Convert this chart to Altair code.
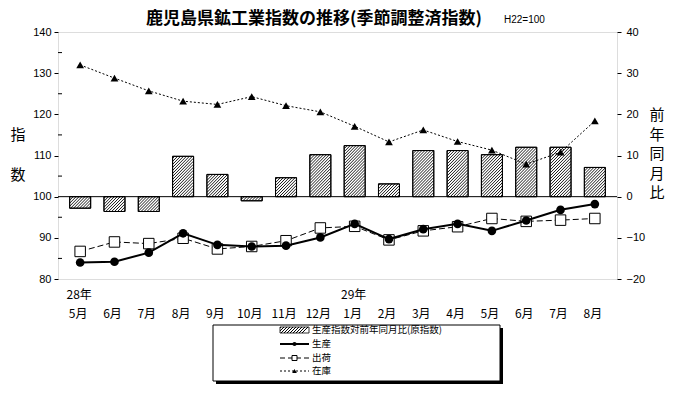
import math
import altair as alt
import pandas as pd

# ---------------- data ----------------
months = ["5月", "6月", "7月", "8月", "9月", "10月", "11月", "12月",
          "1月", "2月", "3月", "4月", "5月", "6月", "7月", "8月"]
years = ["28年", "", "", "", "", "", "", "", "29年", "", "", "", "", "", "", ""]
yoy = [-2.8, -3.6, -3.6, 9.8, 5.4, -1.0, 4.6, 10.2, 12.4, 3.1, 11.2, 11.2, 10.2, 12.0, 12.0, 7.1]
production = [84.0, 84.2, 86.4, 91.1, 88.3, 87.9, 88.1, 90.1, 93.4, 89.7, 92.1, 93.4, 91.7, 94.2, 96.8, 98.2]
shipments = [86.7, 89.0, 88.6, 89.9, 87.3, 87.9, 89.3, 92.4, 92.8, 89.5, 91.7, 92.7, 94.7, 94.0, 94.3, 94.7]
inventory = [32.0, 28.8, 25.7, 23.2, 22.4, 24.3, 22.1, 20.6, 17.1, 13.3, 16.2, 13.4, 11.3, 7.9, 10.8, 18.4]

left_ticks = [80, 90, 100, 110, 120, 130, 140]
left_minor = [85, 95, 105, 115, 125, 135]
right_ticks = [-20, -10, 0, 10, 20, 30, 40]

title_text = "鹿児島県鉱工業指数の推移(季節調整済指数)"
base_text = "H22=100"
legend_labels = ["生産指数対前年同月比(原指数)", "生産", "出荷", "在庫"]

# ---------------- layout ----------------
W, H = 559, 247
BAR_W = 21
JP = "Noto Sans CJK JP"
NUM = "Liberation Sans"

n = len(months)
df = pd.DataFrame({
    "i": list(range(n)),
    "month": months,
    "year": years,
    "yoy": yoy,
    "production": production,
    "shipments": shipments,
    "inventory": inventory,
})

x_scale = alt.Scale(domain=[-0.5, n - 0.5], nice=False, zero=False)
left_scale = alt.Scale(domain=[80, 140], nice=False, zero=False)
right_scale = alt.Scale(domain=[-20, 40], nice=False, zero=False)

Xn = alt.X("i:Q", scale=x_scale, axis=None)

left_axis = alt.Axis(orient="left", values=left_ticks, tickSize=4, labelPadding=3,
                     labelFont=NUM, labelFontSize=11, title=None, grid=False,
                     domain=False, labelColor="black", tickColor="black")
right_axis = alt.Axis(orient="right", values=right_ticks, tickSize=4, labelPadding=5,
                      labelFont=NUM, labelFontSize=11, title=None, grid=False,
                      domain=False, labelColor="black", tickColor="black")

# ---------------- hatch lines (derived from bar values) ----------------
sx = W / n
sy = H / 60.0
step = 3.0
segs = []
for i, v in enumerate(yoy):
    xc = (i + 0.5) * sx
    x0, x1 = xc - BAR_W / 2, xc + BAR_W / 2
    y0, y1 = (min(0, v) + 20) * sy, (max(0, v) + 20) * sy
    kmin = math.ceil((x0 - y1) / step)
    kmax = math.floor((x1 - y0) / step)
    for k in range(kmin, kmax + 1):
        c = k * step
        lo = max(y0, x0 - c)
        hi = min(y1, x1 - c)
        if hi - lo > 0.3:
            segs.append({
                "hx": (lo + c) / sx - 0.5, "hy": lo / sy - 20,
                "hx2": (hi + c) / sx - 0.5, "hy2": hi / sy - 20,
            })
hatch_df = pd.DataFrame(segs)

base = alt.Chart(df)
one = alt.Chart(pd.DataFrame({"a": [0]}))

bars_bg = base.mark_bar(size=BAR_W, fill="white", stroke="black", strokeWidth=1).encode(
    x=Xn, y=alt.Y("yoy:Q", scale=right_scale, axis=right_axis), y2=alt.datum(0))
hatch = alt.Chart(hatch_df).mark_rule(stroke="black", strokeWidth=0.9).encode(
    x=alt.X("hx:Q", scale=x_scale, axis=None), x2="hx2:Q",
    y=alt.Y("hy:Q", scale=right_scale, axis=None), y2="hy2:Q")
bars_outline = base.mark_bar(size=BAR_W, fillOpacity=0, stroke="black", strokeWidth=1).encode(
    x=Xn, y=alt.Y("yoy:Q", scale=right_scale, axis=None), y2=alt.datum(0))

zero_line = alt.Chart(pd.DataFrame({"z": [0]})).mark_rule(stroke="black", strokeWidth=1).encode(
    y=alt.Y("z:Q", scale=right_scale, axis=None))

minor = alt.Chart(pd.DataFrame({"m": left_minor})).mark_rule(stroke="black", strokeWidth=1).encode(
    y=alt.Y("m:Q", scale=left_scale, axis=None), x=alt.value(0), x2=alt.value(4))

inv_line = base.mark_line(stroke="black", strokeWidth=1, strokeDash=[2, 2]).encode(
    x=Xn, y=alt.Y("inventory:Q", scale=right_scale, axis=None))
inv_pts = base.mark_point(shape="triangle-up", filled=True, fill="black", size=60, opacity=1).encode(
    x=Xn, y=alt.Y("inventory:Q", scale=right_scale, axis=None))

ship_line = base.mark_line(stroke="black", strokeWidth=1, strokeDash=[6, 3]).encode(
    x=Xn, y=alt.Y("shipments:Q", scale=left_scale, axis=left_axis))
ship_pts = base.mark_point(shape="square", filled=True, fill="white", stroke="black",
                           strokeWidth=1, size=110, opacity=1).encode(
    x=Xn, y=alt.Y("shipments:Q", scale=left_scale, axis=None))

prod_line = base.mark_line(stroke="black", strokeWidth=2).encode(
    x=Xn, y=alt.Y("production:Q", scale=left_scale, axis=None))
prod_pts = base.mark_point(shape="circle", filled=True, fill="black", size=75, opacity=1).encode(
    x=Xn, y=alt.Y("production:Q", scale=left_scale, axis=None))

# x-axis labels (two rows: year, month)
month_lab = base.mark_text(font=JP, fontSize=12, align="center", baseline="middle",
                           color="black", dx=-2).encode(
    x=Xn, y=alt.value(H + 35), text="month:N")
year_lab = base.mark_text(font=JP, fontSize=12, align="center", baseline="middle",
                          color="black", dx=-1).encode(
    x=Xn, y=alt.value(H + 16), text="year:N")

# ---------------- titles ----------------
title = one.mark_text(text=title_text, font=JP, fontSize=17, fontWeight="bold",
                      align="center", baseline="middle", color="black").encode(
    x=alt.value(256), y=alt.value(-13))
subtitle = one.mark_text(text=base_text, font=NUM, fontSize=10, align="left",
                         baseline="middle", color="black").encode(
    x=alt.value(446), y=alt.value(-12))
ylab1 = one.mark_text(text="指", font=JP, fontSize=15, align="center", baseline="middle",
                      color="black").encode(x=alt.value(-40), y=alt.value(103))
ylab2 = one.mark_text(text="数", font=JP, fontSize=15, align="center", baseline="middle",
                      color="black").encode(x=alt.value(-40), y=alt.value(143))
ylab_r = one.mark_text(text=list("前年同月比"), font=JP, fontSize=15, lineHeight=19.5,
                       align="center", baseline="top", color="black").encode(
    x=alt.value(599), y=alt.value(76))

# ---------------- legend ----------------
LX0, LX1, LY0, LY1 = 155, 442, 293, 349
shadow = one.mark_rect(fill="black").encode(
    x=alt.value(LX0 + 3), x2=alt.value(LX1 + 3), y=alt.value(LY0 + 3), y2=alt.value(LY1 + 3))
box = one.mark_rect(fill="white", stroke="black", strokeWidth=1).encode(
    x=alt.value(LX0), x2=alt.value(LX1), y=alt.value(LY0), y2=alt.value(LY1))

N_STRIPES = 10
stops = []
for k in range(N_STRIPES):
    a = k / N_STRIPES
    b = (k + 0.45) / N_STRIPES
    c = (k + 1) / N_STRIPES
    stops += [{"offset": a, "color": "black"}, {"offset": b, "color": "black"},
              {"offset": b, "color": "white"}, {"offset": c, "color": "white"}]
hatch_fill = {"gradient": "linear", "x1": 0, "y1": 0, "x2": 1, "y2": 0.2, "stops": stops}

rows_y = [298, 312, 326, 339]
SW0, SW1, SWC = 222, 251, 236.5
TX = 254
leg_layers = [shadow, box]
leg_layers.append(one.mark_rect(fill=hatch_fill, stroke="black", strokeWidth=0.8).encode(
    x=alt.value(SW0), x2=alt.value(SW1), y=alt.value(rows_y[0] - 3), y2=alt.value(rows_y[0] + 3)))
leg_layers.append(one.mark_rule(stroke="black", strokeWidth=2).encode(
    x=alt.value(SW0), x2=alt.value(SW1), y=alt.value(rows_y[1])))
leg_layers.append(one.mark_point(shape="circle", filled=True, fill="black", size=18, opacity=1).encode(
    x=alt.value(SWC), y=alt.value(rows_y[1])))
leg_layers.append(one.mark_rule(stroke="black", strokeWidth=1, strokeDash=[5, 3]).encode(
    x=alt.value(SW0), x2=alt.value(SW1), y=alt.value(rows_y[2])))
leg_layers.append(one.mark_point(shape="square", filled=True, fill="white", stroke="black",
                                 strokeWidth=1, size=25, opacity=1).encode(
    x=alt.value(SWC), y=alt.value(rows_y[2])))
leg_layers.append(one.mark_rule(stroke="black", strokeWidth=1, strokeDash=[2, 2]).encode(
    x=alt.value(SW0), x2=alt.value(SW1), y=alt.value(rows_y[3])))
leg_layers.append(one.mark_point(shape="triangle-up", filled=True, fill="black", size=22, opacity=1).encode(
    x=alt.value(SWC), y=alt.value(rows_y[3])))
for lab, yy in zip(legend_labels, rows_y):
    leg_layers.append(one.mark_text(text=lab, font=JP, fontSize=9.5, align="left",
                                    baseline="middle", color="black").encode(
        x=alt.value(TX), y=alt.value(yy)))

chart = alt.layer(
    bars_bg, hatch, bars_outline, zero_line, minor,
    inv_line, inv_pts, ship_line, ship_pts, prod_line, prod_pts,
    month_lab, year_lab,
    title, subtitle, ylab1, ylab2, ylab_r, *leg_layers,
).resolve_scale(y="independent").properties(
    width=W, height=H,
    padding={"left": 50, "top": 24, "right": 75, "bottom": 106},
    autosize=alt.AutoSizeParams(type="none"),
).configure_view(stroke="black", strokeWidth=1).configure(background="white")

chart.save("out.html", embed_options={"renderer": "svg", "actions": False})
